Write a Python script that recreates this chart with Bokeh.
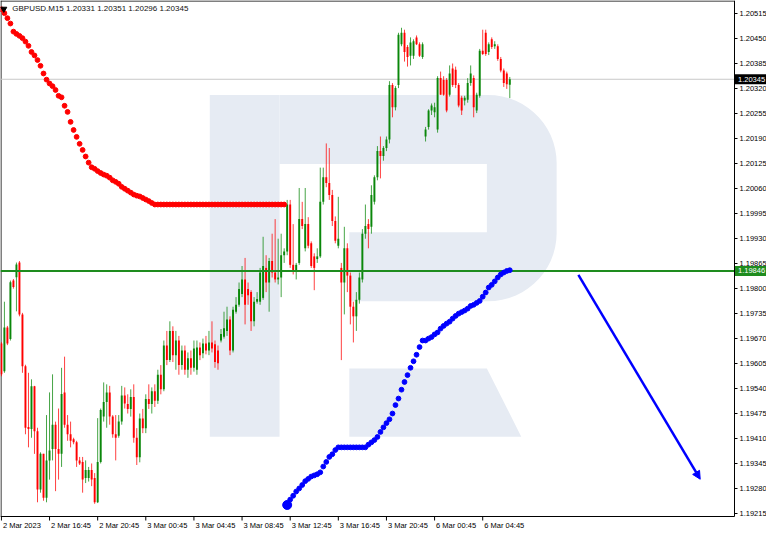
import numpy as np
from bokeh.plotting import figure
from bokeh.models import FixedTicker, PrintfTickFormatter, Label, Arrow, NormalHead, ColumnDataSource
from bokeh.embed import file_html
from bokeh.resources import INLINE
from bokeh.core.properties import value

symbol = "GBPUSD.M15"

x_label_bars = [0, 16, 32, 48, 64, 80, 96, 112, 128, 144, 160]
x_labels = ["2 Mar 2023", "2 Mar 16:45", "2 Mar 20:45", "3 Mar 00:45", "3 Mar 04:45",
            "3 Mar 08:45", "3 Mar 12:45", "3 Mar 16:45", "3 Mar 20:45", "6 Mar 00:45", "6 Mar 04:45"]

price_ticks = [1.19215, 1.19280, 1.19345, 1.19410, 1.19475, 1.19540, 1.19605, 1.19670,
               1.19735, 1.19800, 1.19865, 1.19930, 1.19995, 1.20060, 1.20125, 1.20190,
               1.20255, 1.20320, 1.20385, 1.20450, 1.20515]

opens = [
    1.19657, 1.19585, 1.19699, 1.19669, 1.19821, 1.19830, 1.19868, 1.19733, 1.19598, 1.19440,
    1.19435, 1.19546, 1.19429, 1.19277, 1.19370, 1.19256, 1.19353, 1.19383, 1.19446, 1.19383,
    1.19370, 1.19530, 1.19446, 1.19421, 1.19408, 1.19400, 1.19353, 1.19349, 1.19307, 1.19307,
    1.19328, 1.19307, 1.19244, 1.19349, 1.19467, 1.19505, 1.19530, 1.19467, 1.19421, 1.19417,
    1.19454, 1.19522, 1.19500, 1.19487, 1.19518, 1.19412, 1.19361, 1.19462, 1.19437, 1.19513,
    1.19500, 1.19533, 1.19508, 1.19576, 1.19538, 1.19652, 1.19614, 1.19690, 1.19627, 1.19665,
    1.19601, 1.19639, 1.19589, 1.19619, 1.19594, 1.19589, 1.19647, 1.19632, 1.19657, 1.19639,
    1.19660, 1.19655, 1.19639, 1.19665, 1.19675, 1.19690, 1.19720, 1.19639, 1.19740, 1.19758,
    1.19786, 1.19824, 1.19799, 1.19791, 1.19715, 1.19766, 1.19766, 1.19776, 1.19854, 1.19816,
    1.19872, 1.19842, 1.19824, 1.19829, 1.19887, 1.19897, 1.20019, 1.19862, 1.19847, 1.19867,
    1.19981, 1.19905, 1.19968, 1.19918, 1.19884, 1.19877, 1.19884, 1.20026, 1.20090, 1.20075,
    1.20044, 1.19976, 1.19912, 1.19854, 1.19816, 1.19905, 1.19834, 1.19753, 1.19728, 1.19771,
    1.19824, 1.19943, 1.19968, 1.19961, 1.20026, 1.20090, 1.20158, 1.20145, 1.20166, 1.20188,
    1.20330, 1.20272, 1.20330, 1.20436, 1.20466, 1.20429, 1.20406, 1.20406, 1.20454, 1.20436,
    1.20403, 1.20196, 1.20221, 1.20264, 1.20259, 1.20214, 1.20348, 1.20343, 1.20343, 1.20305,
    1.20373, 1.20370, 1.20330, 1.20297, 1.20290, 1.20292, 1.20335, 1.20348, 1.20264, 1.20302,
    1.20419, 1.20466, 1.20416, 1.20449, 1.20431, 1.20431, 1.20398, 1.20368, 1.20360, 1.20331]

highs = [
    1.19661, 1.19766, 1.19703, 1.19821, 1.19825, 1.19868, 1.19872, 1.19737, 1.19602, 1.19581,
    1.19564, 1.19547, 1.19438, 1.19374, 1.19370, 1.19471, 1.19530, 1.19577, 1.19454, 1.19488,
    1.19594, 1.19623, 1.19471, 1.19454, 1.19412, 1.19404, 1.19362, 1.19362, 1.19353, 1.19336,
    1.19345, 1.19320, 1.19463, 1.19488, 1.19556, 1.19551, 1.19547, 1.19471, 1.19471, 1.19471,
    1.19547, 1.19543, 1.19525, 1.19538, 1.19551, 1.19437, 1.19475, 1.19487, 1.19525, 1.19551,
    1.19543, 1.19551, 1.19589, 1.19601, 1.19665, 1.19690, 1.19715, 1.19702, 1.19690, 1.19677,
    1.19652, 1.19652, 1.19634, 1.19639, 1.19665, 1.19665, 1.19660, 1.19670, 1.19677, 1.19690,
    1.19715, 1.19665, 1.19652, 1.19695, 1.19740, 1.19753, 1.19728, 1.19753, 1.19778, 1.19816,
    1.19859, 1.19880, 1.19816, 1.19796, 1.19778, 1.19791, 1.19854, 1.19935, 1.19887, 1.19880,
    1.19943, 1.19981, 1.19930, 1.19943, 1.19905, 1.20031, 1.20031, 1.19968, 1.19867, 1.20062,
    1.20026, 1.20062, 1.19986, 1.19923, 1.19892, 1.19905, 1.20115, 1.20115, 1.20178, 1.20166,
    1.20057, 1.19988, 1.20039, 1.19867, 1.19961, 1.19918, 1.19842, 1.19766, 1.19791, 1.19842,
    1.19955, 1.20019, 1.19981, 1.20069, 1.20095, 1.20171, 1.20196, 1.20171, 1.20196, 1.20340,
    1.20335, 1.20327, 1.20466, 1.20479, 1.20474, 1.20434, 1.20454, 1.20449, 1.20459, 1.20441,
    1.20441, 1.20221, 1.20267, 1.20282, 1.20284, 1.20353, 1.20365, 1.20353, 1.20348, 1.20381,
    1.20386, 1.20378, 1.20335, 1.20302, 1.20302, 1.20348, 1.20381, 1.20355, 1.20310, 1.20424,
    1.20474, 1.20474, 1.20441, 1.20454, 1.20444, 1.20436, 1.20403, 1.20373, 1.20365, 1.20351]

lows = [
    1.19572, 1.19581, 1.19653, 1.19665, 1.19800, 1.19741, 1.19728, 1.19581, 1.19421, 1.19387,
    1.19412, 1.19370, 1.19244, 1.19269, 1.19248, 1.19244, 1.19303, 1.19353, 1.19273, 1.19303,
    1.19336, 1.19438, 1.19404, 1.19387, 1.19395, 1.19336, 1.19341, 1.19269, 1.19294, 1.19298,
    1.19286, 1.19240, 1.19242, 1.19345, 1.19454, 1.19438, 1.19446, 1.19412, 1.19353, 1.19412,
    1.19446, 1.19488, 1.19475, 1.19467, 1.19399, 1.19341, 1.19348, 1.19424, 1.19424, 1.19487,
    1.19475, 1.19492, 1.19500, 1.19525, 1.19533, 1.19601, 1.19609, 1.19609, 1.19589, 1.19576,
    1.19589, 1.19576, 1.19568, 1.19576, 1.19584, 1.19576, 1.19614, 1.19619, 1.19629, 1.19627,
    1.19634, 1.19594, 1.19589, 1.19660, 1.19670, 1.19677, 1.19627, 1.19634, 1.19735, 1.19753,
    1.19778, 1.19707, 1.19758, 1.19690, 1.19702, 1.19761, 1.19758, 1.19771, 1.19791, 1.19740,
    1.19829, 1.19816, 1.19811, 1.19778, 1.19867, 1.19887, 1.19854, 1.19837, 1.19824, 1.19862,
    1.19955, 1.19897, 1.19905, 1.19854, 1.19796, 1.19867, 1.19880, 1.20019, 1.20064, 1.20031,
    1.19963, 1.19918, 1.19905, 1.19614, 1.19733, 1.19791, 1.19707, 1.19660, 1.19690, 1.19761,
    1.19816, 1.19930, 1.19905, 1.19943, 1.20019, 1.20082, 1.20087, 1.20133, 1.20158, 1.20178,
    1.20246, 1.20264, 1.20322, 1.20431, 1.20391, 1.20378, 1.20381, 1.20398, 1.20434, 1.20403,
    1.20398, 1.20183, 1.20214, 1.20252, 1.20246, 1.20206, 1.20305, 1.20302, 1.20259, 1.20300,
    1.20325, 1.20322, 1.20272, 1.20252, 1.20277, 1.20284, 1.20328, 1.20246, 1.20257, 1.20297,
    1.20408, 1.20406, 1.20408, 1.20424, 1.20424, 1.20393, 1.20363, 1.20325, 1.20320, 1.20296]

closes = [
    1.19577, 1.19699, 1.19657, 1.19817, 1.19804, 1.19863, 1.19733, 1.19598, 1.19438, 1.19435,
    1.19546, 1.19429, 1.19277, 1.19370, 1.19256, 1.19353, 1.19379, 1.19446, 1.19383, 1.19370,
    1.19526, 1.19446, 1.19421, 1.19404, 1.19400, 1.19353, 1.19345, 1.19303, 1.19328, 1.19328,
    1.19303, 1.19244, 1.19349, 1.19484, 1.19505, 1.19530, 1.19467, 1.19421, 1.19412, 1.19454,
    1.19522, 1.19501, 1.19487, 1.19518, 1.19412, 1.19361, 1.19462, 1.19437, 1.19513, 1.19500,
    1.19533, 1.19508, 1.19576, 1.19538, 1.19652, 1.19614, 1.19690, 1.19627, 1.19665, 1.19601,
    1.19639, 1.19589, 1.19619, 1.19594, 1.19644, 1.19647, 1.19627, 1.19657, 1.19639, 1.19660,
    1.19644, 1.19609, 1.19606, 1.19682, 1.19697, 1.19720, 1.19639, 1.19745, 1.19758, 1.19799,
    1.19824, 1.19758, 1.19783, 1.19715, 1.19766, 1.19773, 1.19842, 1.19859, 1.19816, 1.19872,
    1.19842, 1.19824, 1.19829, 1.19887, 1.19897, 1.20019, 1.19862, 1.19847, 1.19862, 1.19981,
    1.19963, 1.19968, 1.19912, 1.19859, 1.19854, 1.19884, 1.20026, 1.20090, 1.20075, 1.20044,
    1.19976, 1.19925, 1.19930, 1.19816, 1.19905, 1.19834, 1.19753, 1.19728, 1.19771, 1.19829,
    1.19943, 1.19963, 1.19955, 1.20044, 1.20090, 1.20158, 1.20145, 1.20166, 1.20188, 1.20330,
    1.20272, 1.20322, 1.20461, 1.20466, 1.20416, 1.20403, 1.20441, 1.20444, 1.20436, 1.20406,
    1.20436, 1.20214, 1.20264, 1.20277, 1.20272, 1.20348, 1.20305, 1.20305, 1.20264, 1.20360,
    1.20330, 1.20330, 1.20277, 1.20264, 1.20297, 1.20335, 1.20360, 1.20272, 1.20305, 1.20419,
    1.20411, 1.20411, 1.20436, 1.20429, 1.20436, 1.20398, 1.20368, 1.20335, 1.20332, 1.20345]

# red dotted curve, one value per bar starting at bar 0
red_start = 0
red_dots = [
    1.20527, 1.20517, 1.20504, 1.20490, 1.20469, 1.20463, 1.20458, 1.20452, 1.20443, 1.20432,
    1.20416, 1.20407, 1.20395, 1.20380, 1.20360, 1.20344, 1.20334, 1.20327, 1.20317, 1.20302,
    1.20298, 1.20276, 1.20260, 1.20234, 1.20213, 1.20195, 1.20177, 1.20161, 1.20144, 1.20128,
    1.20116, 1.20112, 1.20106, 1.20101, 1.20097, 1.20094, 1.20089, 1.20082, 1.20078, 1.20073,
    1.20065, 1.20060, 1.20055, 1.20050, 1.20045, 1.20042, 1.20040, 1.20036, 1.20032, 1.20028,
    1.20023, 1.20019, 1.20019, 1.20019, 1.20019, 1.20019, 1.20019, 1.20019, 1.20019, 1.20019,
    1.20019, 1.20019, 1.20019, 1.20019, 1.20019, 1.20019, 1.20019, 1.20019, 1.20019, 1.20019,
    1.20019, 1.20019, 1.20019, 1.20019, 1.20019, 1.20019, 1.20019, 1.20019, 1.20019, 1.20019,
    1.20019, 1.20019, 1.20019, 1.20019, 1.20019, 1.20019, 1.20019, 1.20019, 1.20019, 1.20019,
    1.20019, 1.20019, 1.20019, 1.20019, 1.20019]

# blue dotted curve, one value per bar starting at bar 95
blue_start = 95
blue_dots = [
    1.19237, 1.19251, 1.19261, 1.19272, 1.19280, 1.19289, 1.19299, 1.19305, 1.19311, 1.19314,
    1.19317, 1.19322, 1.19337, 1.19349, 1.19362, 1.19369, 1.19380, 1.19387, 1.19387, 1.19387,
    1.19387, 1.19387, 1.19387, 1.19387, 1.19387, 1.19387, 1.19387, 1.19394, 1.19400, 1.19406,
    1.19414, 1.19427, 1.19439, 1.19450, 1.19460, 1.19475, 1.19497, 1.19514, 1.19537, 1.19557,
    1.19575, 1.19594, 1.19611, 1.19628, 1.19648, 1.19665, 1.19665, 1.19670, 1.19674, 1.19681,
    1.19686, 1.19696, 1.19703, 1.19709, 1.19714, 1.19722, 1.19729, 1.19735, 1.19739, 1.19743,
    1.19748, 1.19755, 1.19758, 1.19763, 1.19768, 1.19779, 1.19790, 1.19803, 1.19810, 1.19819,
    1.19829, 1.19837, 1.19842, 1.19846, 1.19848]

bid_price = 1.20345
level_price = 1.19846
arrow_bars = [191.8, 232.3]
arrow_prices = [1.19836, 1.19304]

# ---------------------------------------------------------------
W, H = 766, 531          # figure size
CW, CH = 734, 516        # chart area (inside the figure) in px
X0, X1 = -0.3, 243.7     # bars visible in the chart area
Y0, Y1 = 1.19207, 1.20550
XE = X0 + W / CW * (X1 - X0)
YS = Y1 - H / CH * (Y1 - Y0)
def dx(px): return px * (X1 - X0) / CW
def dy(px): return px * (Y1 - Y0) / CH

BULL = "#0a870a"
BEAR = "#ff0000"
LEVEL = "#1e8c1e"
WM_COLOR = "#e6ebf3"
FONT = "Liberation Sans"
FS_PX = 7.5
FS = f"{FS_PX}px"

o = np.array(opens); h = np.array(highs); l = np.array(lows); c = np.array(closes)
bars = np.arange(len(c))
colors = [BULL if cc >= oo else BEAR for oo, cc in zip(o, c)]
src = ColumnDataSource(dict(x=bars, h=h, l=l, top=np.maximum(o, c), bot=np.minimum(o, c), color=colors))

p = figure(width=W, height=H, x_range=(X0, XE), y_range=(YS, Y1),
           y_axis_location="right", output_backend="svg", toolbar_location=None,
           min_border_left=0, min_border_top=0, min_border_right=0, min_border_bottom=0,
           background_fill_color="white", border_fill_color="white")
p.grid.visible = False
p.outline_line_color = None

# watermark logo (light "R"), defined on reference-chart pixel fractions
REF_W, REF_H = 747.0, 530.0
def wm(pts):
    xs = [X0 + (px - 2) / REF_W * (X1 - X0) for px, py in pts]
    ys = [Y1 - py / REF_H * (Y1 - Y0) for px, py in pts]
    return xs, ys

R = 70
stem = [(215, 97), (286, 97), (286, 448), (215, 448)]
top_corner = [(498 + R * np.sin(a), 167 - R * np.cos(a)) for a in np.linspace(0, np.pi / 2, 16)]
bot_corner = [(498 + R * np.cos(a), 239 + R * np.sin(a)) for a in np.linspace(0, np.pi / 2, 16)]
bowl = [(286, 97)] + top_corner + bot_corner + [(357, 309), (357, 238), (497, 238), (497, 168), (286, 168)]
leg = [(357, 378), (497, 378), (532, 448), (357, 448)]
wx, wy = [], []
for shape in (stem, bowl, leg):
    a, b = wm(shape)
    wx.append(a); wy.append(b)
p.patches(wx, wy, fill_color=WM_COLOR, line_color=None)

# chart border (left and top; right/bottom are the axis lines)
p.segment(x0=[X0 + dx(0.5), X0], y0=[Y0, Y1 - dy(0.5)],
          x1=[X0 + dx(0.5), X1], y1=[Y1, Y1 - dy(0.5)], line_color="#000000", line_width=1)

# bid line
p.segment(x0=[X0], y0=[bid_price], x1=[X1], y1=[bid_price], line_color="#c8c8c8", line_width=1)

# candles
p.segment(x0="x", y0="h", x1="x", y1="l", color="color", line_width=1, line_alpha=0.75, source=src)
p.vbar(x="x", top="top", bottom="bot", width=0.64, fill_color="color", line_color=None, source=src)

# level line
p.segment(x0=[X0], y0=[level_price], x1=[X1], y1=[level_price], line_color=LEVEL, line_width=2)

# dotted curves
rb = np.arange(len(red_dots)) + red_start
p.scatter(rb, red_dots, size=4.8, color="#ff0000")
bb = np.arange(len(blue_dots)) + blue_start
p.scatter(bb, blue_dots, size=4.8, color="#0000ff")
p.scatter(bb[:1], blue_dots[:1], size=9, color="#0000ff")

# arrow
p.add_layout(Arrow(end=NormalHead(size=8, fill_color="#0000ff", line_color="#0000ff"),
                   x_start=arrow_bars[0], y_start=arrow_prices[0],
                   x_end=arrow_bars[1], y_end=arrow_prices[1],
                   line_color="#0000ff", line_width=2.5))

# header text
p.scatter([0.8], [1.20528], marker="inverted_triangle", size=6, color="black")
title = f"{symbol}  {opens[-1]:.5f} {highs[-1]:.5f} {lows[-1]:.5f} {closes[-1]:.5f}"
p.add_layout(Label(x=3.6, y=1.20528, text=title, text_font=FONT, text_font_size="8px",
                   text_color="#111111", text_baseline="middle", text_align="left"))

# right price axis, pinned to the chart's right edge
ya = p.yaxis[0]
ya.fixed_location = X1
ya.bounds = (Y0, Y1)
ya.ticker = FixedTicker(ticks=price_ticks)
ya.formatter = PrintfTickFormatter(format="%.5f")
ya.major_label_text_font = FONT
ya.major_label_text_font_size = FS
ya.major_label_text_color = "#000000"
ya.major_tick_out = 3
ya.major_tick_in = 0
ya.minor_tick_out = 0
ya.minor_tick_in = 0
ya.major_label_standoff = 2
ya.axis_line_color = "#000000"

# time axis pinned to the chart's bottom; labels start at their tick (MT4 style)
CHAR_W = {" ": 0.278, ":": 0.278, "M": 0.833, "a": 0.556, "r": 0.333}
def text_px(s): return sum(CHAR_W.get(ch, 0.556) for ch in s) * FS_PX
label_pos = [round(b + dx(text_px(s) / 2 + 1.5), 3) for b, s in zip(x_label_bars, x_labels)]
xa = p.xaxis[0]
xa.fixed_location = Y0
xa.bounds = (X0, X1)
xa.ticker = FixedTicker(ticks=label_pos)
xa.major_label_overrides = {pos: s for pos, s in zip(label_pos, x_labels)}
xa.major_label_text_font = FONT
xa.major_label_text_font_size = FS
xa.major_label_text_color = "#000000"
xa.major_tick_out = 0
xa.major_tick_in = 0
xa.minor_tick_out = 0
xa.minor_tick_in = 0
xa.major_label_standoff = 4
xa.axis_line_color = "#000000"
p.segment(x0=x_label_bars, y0=[Y0] * len(x_label_bars), x1=x_label_bars,
          y1=[Y0 - dy(4)] * len(x_label_bars), line_color="#000000", line_width=1)

# price tags on the right axis
for price, bg in ((bid_price, "#000000"), (level_price, LEVEL)):
    r = p.rect(x=[X1 + dx(17)], y=[price], width=dx(33), height=dy(10),
               fill_color=bg, line_color=None)
    r.level = "overlay"
    tx = p.text(x=[X1 + dx(3.5)], y=[price], text=[f"{price:.5f}"], text_font=value(FONT),
                text_font_size=FS, text_color="white", text_baseline="middle", text_align="left")
    tx.level = "overlay"

open("out.html", "w").write(file_html(p, INLINE))
